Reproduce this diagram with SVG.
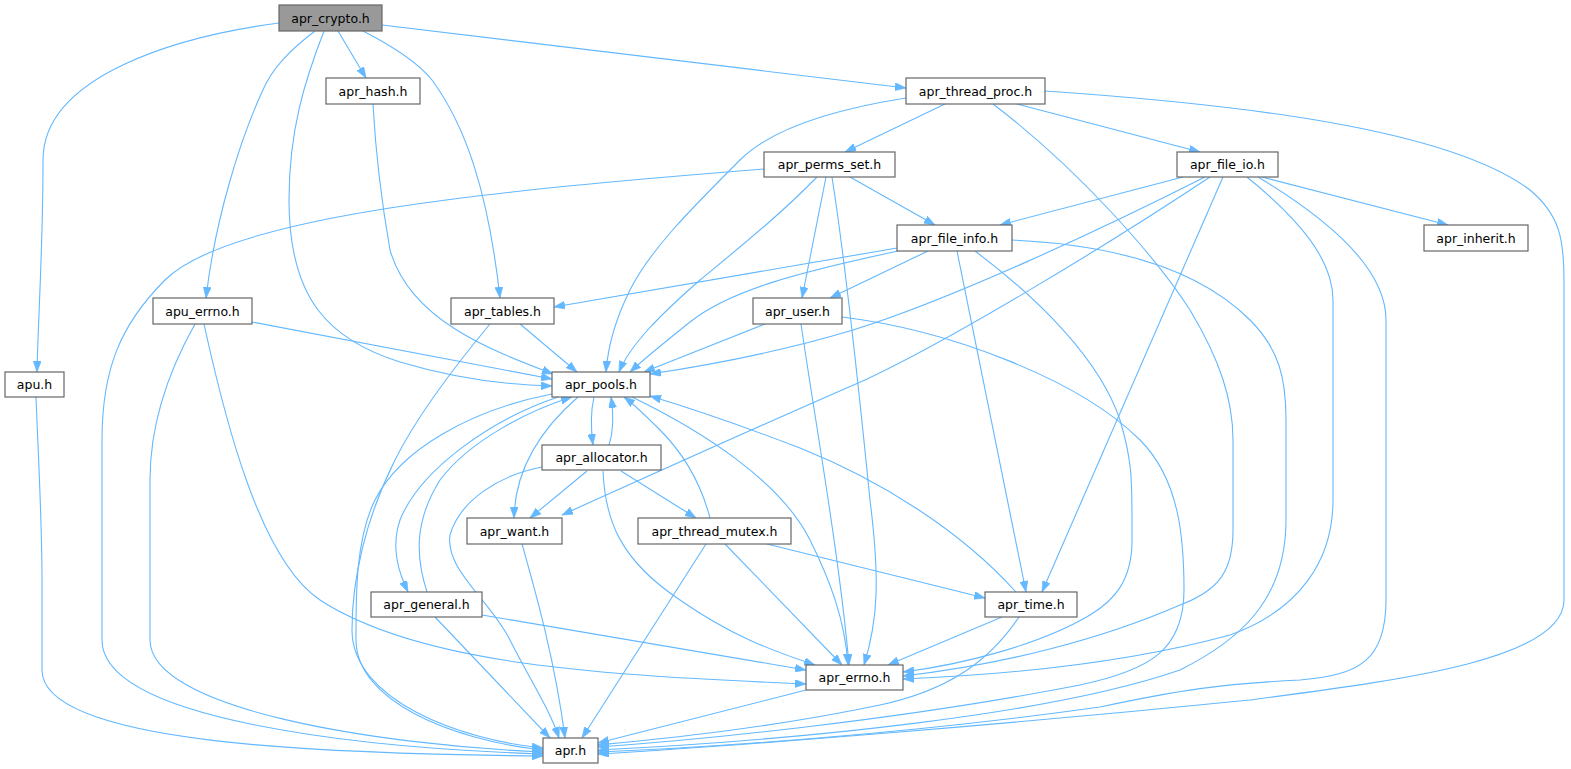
<svg xmlns="http://www.w3.org/2000/svg" width="1571" height="769" viewBox="0 0 1571 769">
<defs>
<marker id="ah" viewBox="0 0 11 8" refX="11" refY="4" markerWidth="11" markerHeight="8" markerUnits="userSpaceOnUse" orient="auto">
<path d="M0,0 L11,4 L0,8 z" fill="#63b8ff" stroke="#63b8ff" stroke-width="0.6"/>
</marker>
</defs>
<style>
.e{fill:none;stroke:#63b8ff;stroke-width:1.1;marker-end:url(#ah)}
.n rect{fill:#fff;stroke:#666;stroke-width:1.2}
.n text{font-family:"DejaVu Sans",Verdana,sans-serif;font-size:12.5px;fill:#000;text-anchor:middle}
#n_crypto rect{fill:#999}
</style>
<rect width="1571" height="769" fill="#fff"/>
<g id="edges">
<path class="e" d="M279,23 C180,36 43,75 43,160 C43,250 38,320 37,372"/>
<path class="e" d="M315,31 C290,50 272,68 262,92 C240,140 215,220 206,298"/>
<path class="e" d="M324,31 C305,80 289,130 289,200 C289,300 330,340 400,362 C460,380 510,385 552,386"/>
<path class="e" d="M338,31 L366,78"/>
<path class="e" d="M363,31 C400,50 420,65 432,80 C465,125 488,190 500,298"/>
<path class="e" d="M382,25 L906,88"/>
<path class="e" d="M373,104 C376,160 383,210 390,250 C410,320 490,350 553,374"/>
<path class="e" d="M252,322 L552,379"/>
<path class="e" d="M195,324 C172,365 150,420 150,480 L150,640 C150,710 380,745 543,752"/>
<path class="e" d="M204,324 C225,420 260,560 320,600 C420,665 600,675 806,684"/>
<path class="e" d="M36,397 C38,450 42,520 42,580 L42,670 C42,745 330,754 543,756"/>
<path class="e" d="M764,169 C500,190 230,215 165,280 C120,325 102,370 102,440 L102,640 C102,720 360,748 543,754"/>
<path class="e" d="M520,324 L577,372"/>
<path class="e" d="M490,324 C460,360 420,410 395,460 C365,520 352,580 352,630 C352,700 460,740 543,748"/>
<path class="e" d="M906,98 C830,110 770,130 740,160 C690,210 650,250 630,290 C615,320 608,345 606,372"/>
<path class="e" d="M945,104 L845,152"/>
<path class="e" d="M1017,104 L1200,152"/>
<path class="e" d="M993,104 C1080,170 1158,260 1190,310 C1220,360 1233,400 1233,440 L1233,530 C1233,570 1220,590 1180,605 C1100,640 1000,665 903,676"/>
<path class="e" d="M1045,91 C1250,105 1450,130 1530,190 C1560,215 1564,240 1564,280 L1564,600 C1564,660 1400,680 1250,700 C1000,725 750,745 598,754"/>
<path class="e" d="M817,177 C780,215 740,247 700,280 C660,315 630,345 619,372"/>
<path class="e" d="M826,177 L802,298"/>
<path class="e" d="M832,177 C845,260 860,400 870,500 C880,580 878,620 864,665"/>
<path class="e" d="M850,177 L935,225"/>
<path class="e" d="M1183,177 L1000,225"/>
<path class="e" d="M1205,177 C1100,230 950,300 853,330 C780,352 710,365 650,374"/>
<path class="e" d="M1210,177 C1100,250 950,340 865,380 C750,430 640,480 562,515"/>
<path class="e" d="M1223,177 L1042,592"/>
<path class="e" d="M1247,177 C1300,220 1333,260 1333,300 L1333,500 C1333,560 1300,610 1230,635 C1120,665 1000,675 903,679"/>
<path class="e" d="M1258,177 C1330,220 1386,270 1386,320 L1386,600 C1386,660 1360,675 1300,680 C1220,684 1180,690 1100,707 C900,735 700,748 598,752"/>
<path class="e" d="M1262,177 L1448,225"/>
<path class="e" d="M897,248 L554,307"/>
<path class="e" d="M898,251 C800,272 730,290 690,322 C665,342 645,358 630,372"/>
<path class="e" d="M928,251 L830,298"/>
<path class="e" d="M957,251 L1026,592"/>
<path class="e" d="M975,251 C1040,300 1100,360 1120,420 C1132,460 1132,480 1132,520 L1132,540 C1132,580 1115,600 1090,615 C1040,645 960,665 903,672"/>
<path class="e" d="M1012,240 C1120,245 1200,270 1250,320 C1280,350 1286,380 1286,420 L1286,520 C1286,600 1240,640 1180,670 C1050,715 800,740 598,750"/>
<path class="e" d="M765,324 L644,372"/>
<path class="e" d="M801,324 C815,420 840,560 849,665"/>
<path class="e" d="M842,317 C950,330 1080,380 1140,440 C1180,480 1184,540 1184,590 C1184,650 1150,670 1080,685 C900,720 700,740 598,747"/>
<path class="e" d="M594,397 C591,410 591,430 593,445"/>
<path class="e" d="M609,445 C614,430 613,410 611,397"/>
<path class="e" d="M578,397 C540,430 515,470 514,518"/>
<path class="e" d="M558,397 C490,420 420,470 400,520 C390,550 400,575 408,592"/>
<path class="e" d="M427,592 C415,555 415,520 440,480 C470,440 530,410 572,397"/>
<path class="e" d="M632,397 C700,430 780,480 810,540 C830,580 845,620 848,665"/>
<path class="e" d="M552,394 C470,410 400,450 375,500 C355,540 356,600 356,640 C356,700 450,740 543,750"/>
<path class="e" d="M587,471 L530,518"/>
<path class="e" d="M621,471 L696,518"/>
<path class="e" d="M603,471 C605,520 620,560 680,600 C730,635 770,650 815,665"/>
<path class="e" d="M542,467 C500,475 460,500 450,535 C445,570 490,600 510,640 C530,680 550,710 559,738"/>
<path class="e" d="M522,544 C535,590 555,660 565,738"/>
<path class="e" d="M710,518 C700,480 680,450 660,430 C645,415 635,405 624,397"/>
<path class="e" d="M706,544 L582,738"/>
<path class="e" d="M725,544 L842,665"/>
<path class="e" d="M767,544 L985,598"/>
<path class="e" d="M435,617 L550,738"/>
<path class="e" d="M482,615 L806,670"/>
<path class="e" d="M1016,592 C960,530 880,480 800,448 C740,425 690,408 650,396"/>
<path class="e" d="M1002,617 L888,665"/>
<path class="e" d="M1019,617 C990,660 950,690 880,705 C760,730 650,740 598,745"/>
<path class="e" d="M806,690 L598,743"/>
</g>
<g id="n_crypto" class="n"><rect x="279" y="5" width="103" height="26"/><text x="330.5" y="22.5">apr_crypto.h</text></g>
<g id="n_hash" class="n"><rect x="326" y="78" width="94" height="26"/><text x="373" y="95.5">apr_hash.h</text></g>
<g id="n_thread_proc" class="n"><rect x="906" y="78" width="139" height="26"/><text x="975.5" y="95.5">apr_thread_proc.h</text></g>
<g id="n_perms_set" class="n"><rect x="764" y="152" width="131" height="25"/><text x="829.5" y="169">apr_perms_set.h</text></g>
<g id="n_file_io" class="n"><rect x="1177" y="152" width="101" height="25"/><text x="1227.5" y="169">apr_file_io.h</text></g>
<g id="n_file_info" class="n"><rect x="897" y="225" width="115" height="26"/><text x="954.5" y="242.5">apr_file_info.h</text></g>
<g id="n_inherit" class="n"><rect x="1424" y="225" width="104" height="26"/><text x="1476" y="242.5">apr_inherit.h</text></g>
<g id="n_apu_errno" class="n"><rect x="153" y="298" width="99" height="26"/><text x="202.5" y="315.5">apu_errno.h</text></g>
<g id="n_tables" class="n"><rect x="451" y="298" width="103" height="26"/><text x="502.5" y="315.5">apr_tables.h</text></g>
<g id="n_user" class="n"><rect x="753" y="298" width="89" height="26"/><text x="797.5" y="315.5">apr_user.h</text></g>
<g id="n_apu" class="n"><rect x="5" y="372" width="59" height="25"/><text x="34.5" y="389">apu.h</text></g>
<g id="n_pools" class="n"><rect x="552" y="372" width="98" height="25"/><text x="601" y="389">apr_pools.h</text></g>
<g id="n_allocator" class="n"><rect x="542" y="445" width="119" height="25"/><text x="601.5" y="462">apr_allocator.h</text></g>
<g id="n_want" class="n"><rect x="467" y="518" width="95" height="26"/><text x="514.5" y="535.5">apr_want.h</text></g>
<g id="n_thread_mutex" class="n"><rect x="638" y="518" width="153" height="26"/><text x="714.5" y="535.5">apr_thread_mutex.h</text></g>
<g id="n_general" class="n"><rect x="371" y="592" width="111" height="25"/><text x="426.5" y="609">apr_general.h</text></g>
<g id="n_time" class="n"><rect x="985" y="592" width="92" height="25"/><text x="1031" y="609">apr_time.h</text></g>
<g id="n_errno" class="n"><rect x="806" y="665" width="97" height="25"/><text x="854.5" y="682">apr_errno.h</text></g>
<g id="n_apr" class="n"><rect x="543" y="738" width="55" height="25"/><text x="570.5" y="755">apr.h</text></g>
</svg>
